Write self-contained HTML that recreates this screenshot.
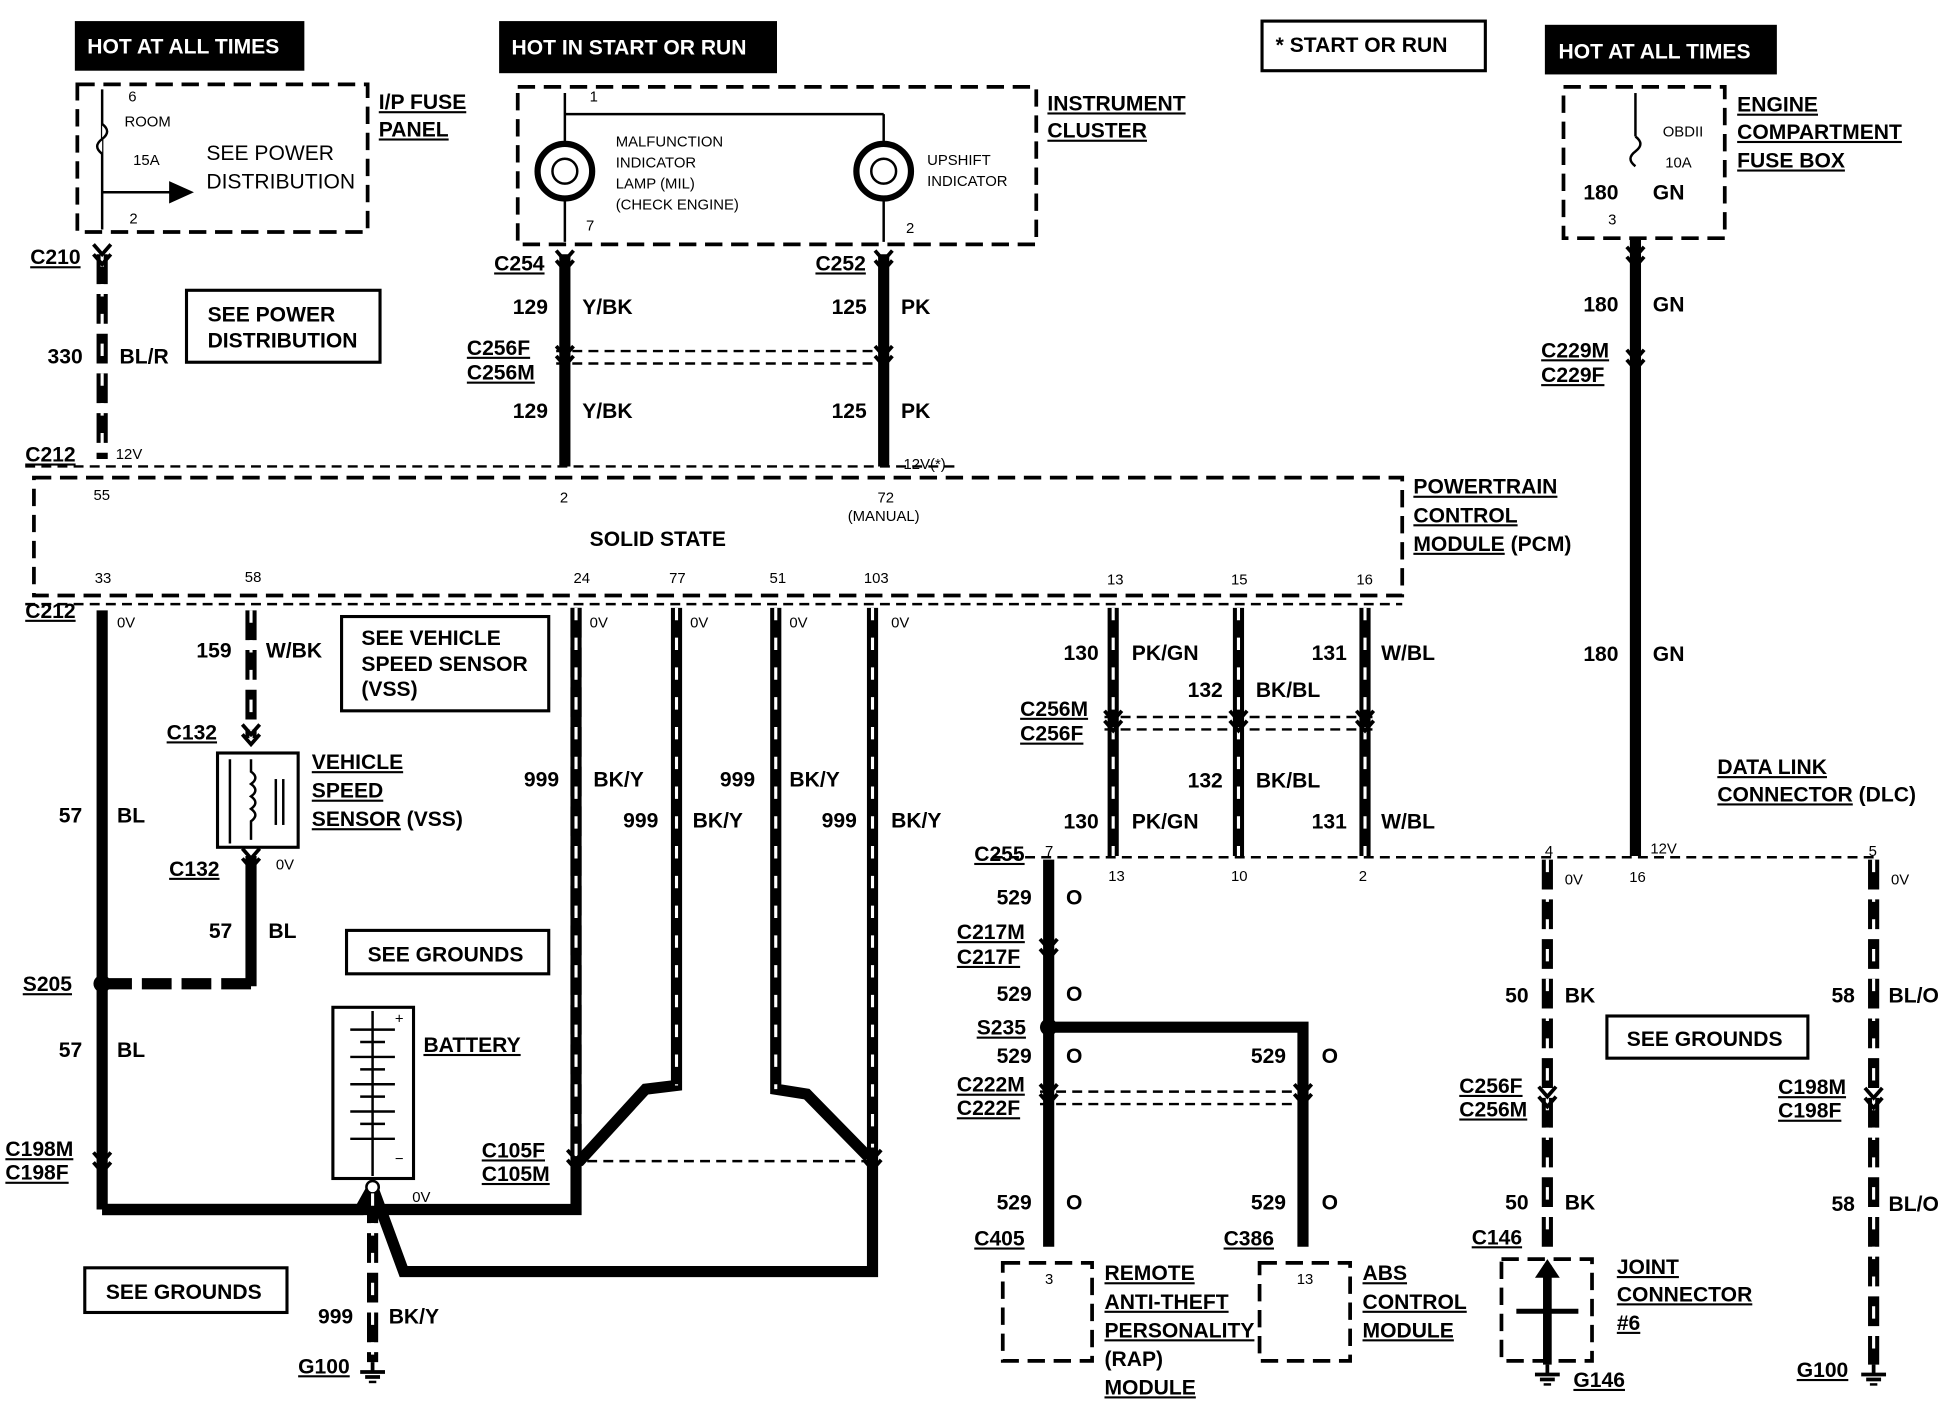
<!DOCTYPE html>
<html><head><meta charset="utf-8"><style>
html,body{margin:0;padding:0;background:#fff}
svg{display:block}
text{font-family:"Liberation Sans",sans-serif;font-weight:bold;fill:#000}
</style></head><body>
<svg width="1946" height="1408" viewBox="0 0 1568 1135" xmlns="http://www.w3.org/2000/svg">
<defs>
<g id="conn"><path d="M-7,-6 L0,2 L7,-6" fill="none" stroke="#000" stroke-width="3"/><path d="M-7,2 L0,10 L7,2" fill="none" stroke="#000" stroke-width="3"/></g>
<g id="gnd"><line x1="0" y1="0" x2="0" y2="8" stroke="#000" stroke-width="3"/><line x1="-10" y1="8" x2="10" y2="8" stroke="#000" stroke-width="3"/><line x1="-6" y1="12" x2="6" y2="12" stroke="#000" stroke-width="3"/><line x1="-3" y1="16" x2="3" y2="16" stroke="#000" stroke-width="2"/></g>
</defs>
<style>
.w{stroke:#000;stroke-width:9;fill:none}
.wd{stroke:#000;stroke-width:9;fill:none;stroke-dasharray:24 8}
.sl{stroke:#fff;stroke-width:2.5;fill:none;stroke-dasharray:10 14}
.db{stroke:#000;stroke-width:3;fill:none;stroke-dasharray:14 7}
.thin{stroke:#000;stroke-width:2;fill:none;stroke-dasharray:8 5}
.bx{stroke:#000;stroke-width:2.5;fill:#fff}
.t{font-size:17px}
.s{font-size:12px;font-weight:normal}
.u{text-decoration:underline}
</style>

<!-- header boxes -->
<rect x="60" y="17" width="185" height="40" fill="#000"/><text x="70" y="43" class="t" style="fill:#fff">HOT AT ALL TIMES</text>
<rect x="402" y="17" width="224" height="42" fill="#000"/><text x="412" y="44" class="t" style="fill:#fff">HOT IN START OR RUN</text>
<rect x="1245" y="20" width="187" height="40" fill="#000"/><text x="1256" y="47" class="t" style="fill:#fff">HOT AT ALL TIMES</text>
<rect x="1017" y="17" width="180" height="40" class="bx"/><text x="1028" y="42" class="t">*  START OR RUN</text>

<!-- I/P fuse panel -->
<rect x="62" y="68" width="234" height="119" class="db" fill="#f4f4f4"/>
<line x1="82" y1="72" x2="82" y2="185" stroke="#000" stroke-width="2"/>
<path d="M82,100 q8,6 0,12 q-8,6 0,12" fill="#fff" stroke="#000" stroke-width="2"/>
<line x1="82" y1="155" x2="140" y2="155" stroke="#000" stroke-width="2"/><path d="M136,146 L156,155 L136,164Z"/>
<text x="103" y="82" class="s">6</text><text x="100" y="102" class="s">ROOM</text><text x="107" y="133" class="s">15A</text><text x="104" y="180" class="s">2</text>
<text x="166" y="129" style="font-size:17px;font-weight:normal">SEE POWER</text><text x="166" y="152" style="font-size:17px;font-weight:normal">DISTRIBUTION</text>
<text x="305" y="88" class="t u">I/P FUSE</text><text x="305" y="110" class="t u">PANEL</text>

<!-- instrument cluster -->
<rect x="417" y="70" width="418" height="127" class="db" fill="#f6f6f6"/>
<line x1="455" y1="75" x2="455" y2="195" stroke="#000" stroke-width="2"/>
<line x1="455" y1="92" x2="712" y2="92" stroke="#000" stroke-width="2"/><line x1="712" y1="92" x2="712" y2="195" stroke="#000" stroke-width="2"/>
<circle cx="455" cy="138" r="22" fill="#fff" stroke="#000" stroke-width="5"/><circle cx="455" cy="138" r="10" fill="none" stroke="#000" stroke-width="2"/>
<circle cx="712" cy="138" r="22" fill="#fff" stroke="#000" stroke-width="5"/><circle cx="712" cy="138" r="10" fill="none" stroke="#000" stroke-width="2"/>
<text x="475" y="82" class="s">1</text>
<text x="496" y="118" class="s">MALFUNCTION</text><text x="496" y="135" class="s">INDICATOR</text><text x="496" y="152" class="s">LAMP (MIL)</text><text x="496" y="169" class="s">(CHECK ENGINE)</text>
<text x="747" y="133" class="s">UPSHIFT</text><text x="747" y="150" class="s">INDICATOR</text>
<text x="472" y="186" class="s">7</text><text x="730" y="188" class="s">2</text>
<text x="844" y="89" class="t u">INSTRUMENT</text><text x="844" y="111" class="t u">CLUSTER</text>

<!-- engine fuse box -->
<rect x="1260" y="70" width="130" height="122" class="db" fill="#f6f6f6"/>
<line x1="1318" y1="75" x2="1318" y2="110" stroke="#000" stroke-width="2"/>
<path d="M1318,110 q8,6 0,12 q-8,6 0,12" fill="none" stroke="#000" stroke-width="2"/>
<text x="1340" y="110" class="s">OBDII</text><text x="1342" y="135" class="s">10A</text>
<text x="1276" y="161" class="t">180</text><text x="1332" y="161" class="t">GN</text><text x="1296" y="181" class="s">3</text>
<text x="1400" y="90" class="t u">ENGINE</text><text x="1400" y="112" class="t u">COMPARTMENT</text><text x="1400" y="135" class="t u">FUSE BOX</text>

<!-- top wires -->
<line x1="82" y1="205" x2="82" y2="370" class="wd"/><line x1="82" y1="205" x2="82" y2="370" class="sl"/>
<line x1="455" y1="205" x2="455" y2="376" class="w"/>
<line x1="712" y1="205" x2="712" y2="376" class="w"/>
<line x1="1318" y1="192" x2="1318" y2="690" class="w"/>
<use href="#conn" x="82" y="203"/><use href="#conn" x="455" y="208"/><use href="#conn" x="712" y="208"/><use href="#conn" x="1318" y="205"/><use href="#conn" x="1318" y="288"/>
<line x1="448" y1="283" x2="720" y2="283" class="thin"/><line x1="448" y1="293" x2="720" y2="293" class="thin"/>
<use href="#conn" x="455" y="285"/><use href="#conn" x="712" y="285"/>
<text x="24" y="213" class="t u">C210</text>
<text x="38" y="293" class="t">330</text><text x="96" y="293" class="t">BL/R</text>
<rect x="150" y="234" width="156" height="58" class="bx"/><text x="167" y="259" class="t">SEE POWER</text><text x="167" y="280" class="t">DISTRIBUTION</text>
<text x="398" y="218" class="t u">C254</text><text x="657" y="218" class="t u">C252</text>
<text x="413" y="253" class="t">129</text><text x="469" y="253" class="t">Y/BK</text><text x="670" y="253" class="t">125</text><text x="726" y="253" class="t">PK</text>
<text x="376" y="286" class="t u">C256F</text><text x="376" y="306" class="t u">C256M</text>
<text x="413" y="337" class="t">129</text><text x="469" y="337" class="t">Y/BK</text><text x="670" y="337" class="t">125</text><text x="726" y="337" class="t">PK</text>
<text x="1242" y="288" class="t u">C229M</text><text x="1242" y="308" class="t u">C229F</text>
<text x="1276" y="251" class="t">180</text><text x="1332" y="251" class="t">GN</text>
<text x="1276" y="533" class="t">180</text><text x="1332" y="533" class="t">GN</text>

<line x1="20" y1="376" x2="770" y2="376" class="thin"/>
<text x="20" y="372" class="t u">C212</text><text x="93" y="370" class="s">12V</text><text x="728" y="378" class="s">12V(*)</text>

<!-- PCM -->
<rect x="27" y="385" width="1103" height="95" class="db"/>
<text x="75" y="403" class="s">55</text><text x="451" y="405" class="s">2</text><text x="707" y="405" class="s">72</text><text x="683" y="420" class="s">(MANUAL)</text>
<text x="475" y="440" class="t">SOLID STATE</text>
<text x="76" y="470" class="s">33</text><text x="197" y="469" class="s">58</text><text x="462" y="470" class="s">24</text><text x="539" y="470" class="s">77</text><text x="620" y="470" class="s">51</text><text x="696" y="470" class="s">103</text><text x="892" y="471" class="s">13</text><text x="992" y="471" class="s">15</text><text x="1093" y="471" class="s">16</text>
<text x="1139" y="398" class="t u">POWERTRAIN</text><text x="1139" y="421" class="t u">CONTROL</text><text x="1139" y="444" class="t"><tspan text-decoration="underline">MODULE</tspan> (PCM)</text>
<line x1="20" y1="487" x2="1130" y2="487" class="thin"/>
<text x="20" y="498" class="t u">C212</text>

<!-- left lower wires -->
<line x1="82" y1="492" x2="82" y2="975" class="w"/>
<polyline points="82,975 464,975 464,490" class="w"/>
<line x1="202" y1="492" x2="202" y2="595" class="wd"/><line x1="202" y1="492" x2="202" y2="595" class="sl"/>
<line x1="202" y1="690" x2="202" y2="795" class="w"/>
<line x1="82" y1="793" x2="202" y2="793" class="wd"/>
<circle cx="82" cy="793" r="7"/>
<use href="#conn" x="202" y="590"/><use href="#conn" x="202" y="690"/><use href="#conn" x="82" y="935"/>
<rect x="175" y="607" width="65" height="76" class="bx" stroke-width="3"/>
<path d="M202,612 v10 q7,5 0,10 q7,5 0,10 q7,5 0,10 q7,5 0,10 v15" fill="none" stroke="#000" stroke-width="2"/>
<line x1="185" y1="612" x2="185" y2="680" stroke="#000" stroke-width="2"/><line x1="222" y1="628" x2="222" y2="665" stroke="#000" stroke-width="2"/><line x1="228" y1="628" x2="228" y2="665" stroke="#000" stroke-width="2"/>
<text x="94" y="506" class="s">0V</text><text x="158" y="530" class="t">159</text><text x="214" y="530" class="t">W/BK</text>
<text x="134" y="596" class="t u">C132</text><text x="136" y="706" class="t u">C132</text><text x="222" y="701" class="s">0V</text>
<text x="251" y="620" class="t u">VEHICLE</text><text x="251" y="643" class="t u">SPEED</text><text x="251" y="666" class="t"><tspan text-decoration="underline">SENSOR</tspan> (VSS)</text>
<text x="47" y="663" class="t">57</text><text x="94" y="663" class="t">BL</text>
<text x="168" y="756" class="t">57</text><text x="216" y="756" class="t">BL</text>
<text x="18" y="799" class="t u">S205</text>
<text x="47" y="852" class="t">57</text><text x="94" y="852" class="t">BL</text>
<text x="4" y="932" class="t u">C198M</text><text x="4" y="951" class="t u">C198F</text>
<rect x="275" y="497" width="167" height="76" class="bx"/><text x="291" y="520" class="t">SEE VEHICLE</text><text x="291" y="541" class="t">SPEED SENSOR</text><text x="291" y="561" class="t">(VSS)</text>
<rect x="279" y="750" width="163" height="35" class="bx"/><text x="296" y="775" class="t">SEE GROUNDS</text>

<!-- BK/Y wires -->
<line x1="464" y1="490" x2="464" y2="935" class="wd"/><line x1="464" y1="490" x2="464" y2="935" class="sl"/>
<polyline points="545,490 545,875 520,878 466,937" class="w"/><polyline points="545,490 545,875" class="sl"/>
<polyline points="625,490 625,878 650,882 700,933" class="w"/><polyline points="625,490 625,878" class="sl"/>
<polyline points="703,490 703,1025 325,1025 300,957" class="w"/><polyline points="703,490 703,925" class="sl"/>
<line x1="460" y1="936" x2="705" y2="936" class="thin"/>
<use href="#conn" x="464" y="933"/><use href="#conn" x="703" y="933"/>
<text x="475" y="506" class="s">0V</text><text x="556" y="506" class="s">0V</text><text x="636" y="506" class="s">0V</text><text x="718" y="506" class="s">0V</text>
<text x="422" y="634" class="t">999</text><text x="478" y="634" class="t">BK/Y</text>
<text x="580" y="634" class="t">999</text><text x="636" y="634" class="t">BK/Y</text>
<text x="502" y="667" class="t">999</text><text x="558" y="667" class="t">BK/Y</text>
<text x="662" y="667" class="t">999</text><text x="718" y="667" class="t">BK/Y</text>
<text x="388" y="933" class="t u">C105F</text><text x="388" y="952" class="t u">C105M</text>

<!-- battery -->
<rect x="268" y="812" width="65" height="138" class="bx" stroke-width="3"/>
<line x1="300" y1="815" x2="300" y2="948" stroke="#000" stroke-width="2"/>
<g stroke="#000" stroke-width="2"><line x1="282" y1="830" x2="318" y2="830"/><line x1="290" y1="840" x2="310" y2="840"/><line x1="282" y1="852" x2="318" y2="852"/><line x1="290" y1="862" x2="310" y2="862"/><line x1="282" y1="874" x2="318" y2="874"/><line x1="290" y1="884" x2="310" y2="884"/><line x1="282" y1="896" x2="318" y2="896"/><line x1="290" y1="906" x2="310" y2="906"/><line x1="282" y1="918" x2="318" y2="918"/></g>
<text x="318" y="825" class="s">+</text><text x="318" y="938" class="s">−</text>
<polyline points="82,975 290,975 300,957" class="w"/>
<circle cx="300" cy="957" r="5" fill="#fff" stroke="#000" stroke-width="2"/>
<line x1="300" y1="962" x2="300" y2="1098" class="wd"/><line x1="300" y1="962" x2="300" y2="1098" class="sl"/>
<use href="#gnd" x="300" y="1098"/>
<text x="341" y="848" class="t u">BATTERY</text><text x="332" y="969" class="s">0V</text>
<rect x="68" y="1022" width="163" height="36" class="bx"/><text x="85" y="1047" class="t">SEE GROUNDS</text>
<text x="256" y="1067" class="t">999</text><text x="313" y="1067" class="t">BK/Y</text>
<text x="240" y="1107" class="t u">G100</text>

<!-- right PCM wires -->
<line x1="897" y1="490" x2="897" y2="690" class="w"/><line x1="897" y1="490" x2="897" y2="690" class="sl"/>
<line x1="998" y1="490" x2="998" y2="690" class="w"/><line x1="998" y1="490" x2="998" y2="690" class="sl"/>
<line x1="1100" y1="490" x2="1100" y2="690" class="w"/><line x1="1100" y1="490" x2="1100" y2="690" class="sl"/>
<line x1="890" y1="578" x2="1108" y2="578" class="thin"/><line x1="890" y1="588" x2="1108" y2="588" class="thin"/>
<use href="#conn" x="897" y="579"/><use href="#conn" x="998" y="579"/><use href="#conn" x="1100" y="579"/>
<text x="857" y="532" class="t">130</text><text x="912" y="532" class="t">PK/GN</text><text x="1057" y="532" class="t">131</text><text x="1113" y="532" class="t">W/BL</text>
<text x="957" y="562" class="t">132</text><text x="1012" y="562" class="t">BK/BL</text>
<text x="822" y="577" class="t u">C256M</text><text x="822" y="597" class="t u">C256F</text>
<text x="957" y="635" class="t">132</text><text x="1012" y="635" class="t">BK/BL</text>
<text x="857" y="668" class="t">130</text><text x="912" y="668" class="t">PK/GN</text><text x="1057" y="668" class="t">131</text><text x="1113" y="668" class="t">W/BL</text>
<text x="1384" y="624" class="t u">DATA  LINK</text><text x="1384" y="646" class="t"><tspan text-decoration="underline">CONNECTOR</tspan> (DLC)</text>

<line x1="800" y1="691" x2="1515" y2="691" class="thin"/>
<text x="785" y="694" class="t u">C255</text>
<text x="842" y="690" class="s">7</text><text x="893" y="710" class="s">13</text><text x="992" y="710" class="s">10</text><text x="1095" y="710" class="s">2</text><text x="1245" y="690" class="s">4</text><text x="1313" y="711" class="s">16</text><text x="1330" y="688" class="s">12V</text><text x="1506" y="690" class="s">5</text>

<!-- 529 -->
<line x1="845" y1="693" x2="845" y2="1005" class="w"/>
<polyline points="845,828 1050,828 1050,1005" class="w"/>
<circle cx="845" cy="828" r="7"/>
<use href="#conn" x="845" y="763"/><use href="#conn" x="845" y="880"/><use href="#conn" x="1050" y="880"/>
<line x1="838" y1="880" x2="1058" y2="880" class="thin"/><line x1="838" y1="890" x2="1058" y2="890" class="thin"/>
<text x="803" y="729" class="t">529</text><text x="859" y="729" class="t">O</text>
<text x="771" y="757" class="t u">C217M</text><text x="771" y="777" class="t u">C217F</text>
<text x="803" y="807" class="t">529</text><text x="859" y="807" class="t">O</text>
<text x="787" y="834" class="t u">S235</text>
<text x="803" y="857" class="t">529</text><text x="859" y="857" class="t">O</text><text x="1008" y="857" class="t">529</text><text x="1065" y="857" class="t">O</text>
<text x="771" y="880" class="t u">C222M</text><text x="771" y="899" class="t u">C222F</text>
<text x="803" y="975" class="t">529</text><text x="859" y="975" class="t">O</text><text x="1008" y="975" class="t">529</text><text x="1065" y="975" class="t">O</text>
<text x="785" y="1004" class="t u">C405</text><text x="986" y="1004" class="t u">C386</text>
<rect x="808" y="1018" width="72" height="79" class="db"/><text x="842" y="1035" class="s">3</text>
<rect x="1015" y="1018" width="73" height="79" class="db"/><text x="1045" y="1035" class="s">13</text>
<text x="890" y="1032" class="t u">REMOTE</text><text x="890" y="1055" class="t u">ANTI-THEFT</text><text x="890" y="1078" class="t u">PERSONALITY</text><text x="890" y="1101" class="t">(RAP)</text><text x="890" y="1124" class="t u">MODULE</text>
<text x="1098" y="1032" class="t u">ABS</text><text x="1098" y="1055" class="t u">CONTROL</text><text x="1098" y="1078" class="t u">MODULE</text>

<!-- 50 BK -->
<line x1="1247" y1="693" x2="1247" y2="1005" class="wd"/><line x1="1247" y1="693" x2="1247" y2="1005" class="sl"/>
<use href="#conn" x="1247" y="882"/>
<text x="1261" y="713" class="s">0V</text>
<text x="1213" y="808" class="t">50</text><text x="1261" y="808" class="t">BK</text>
<text x="1176" y="881" class="t u">C256F</text><text x="1176" y="900" class="t u">C256M</text>
<text x="1213" y="975" class="t">50</text><text x="1261" y="975" class="t">BK</text>
<text x="1186" y="1003" class="t u">C146</text>
<rect x="1210" y="1015" width="73" height="82" class="db"/>
<line x1="1247" y1="1020" x2="1247" y2="1100" stroke="#000" stroke-width="7"/><path d="M1237,1030 L1247,1015 L1257,1030Z"/>
<line x1="1222" y1="1057" x2="1272" y2="1057" stroke="#000" stroke-width="4"/>
<use href="#gnd" x="1247" y="1100"/>
<text x="1268" y="1118" class="t u">G146</text>
<text x="1303" y="1027" class="t u">JOINT</text><text x="1303" y="1049" class="t u">CONNECTOR</text><text x="1303" y="1072" class="t u">#6</text>

<!-- 58 BL/O -->
<line x1="1510" y1="693" x2="1510" y2="1100" class="wd"/><line x1="1510" y1="693" x2="1510" y2="1100" class="sl"/>
<use href="#conn" x="1510" y="883"/><use href="#gnd" x="1510" y="1100"/>
<text x="1524" y="713" class="s">0V</text>
<text x="1476" y="808" class="t">58</text><text x="1522" y="808" class="t">BL/O</text>
<rect x="1295" y="819" width="162" height="34" class="bx"/><text x="1311" y="843" class="t">SEE GROUNDS</text>
<text x="1433" y="882" class="t u">C198M</text><text x="1433" y="901" class="t u">C198F</text>
<text x="1476" y="976" class="t">58</text><text x="1522" y="976" class="t">BL/O</text>
<text x="1448" y="1110" class="t u">G100</text>
</svg>
</body></html>
